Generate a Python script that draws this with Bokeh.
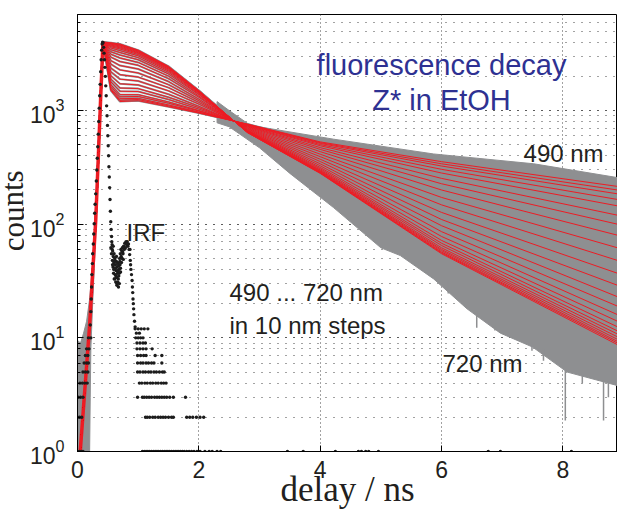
from bokeh.plotting import figure
from bokeh.layouts import row
from bokeh.models import Label, FixedTicker, Range1d
from bokeh.core.properties import value
from bokeh.embed import file_html
from bokeh.resources import INLINE

# ---------------- data ----------------
wavelengths = list(range(490, 730, 10))          # 490 ... 720 nm, 24 traces

# shared rise of the fitted curves (ns, counts)
rise_t = [0.045, 0.20, 0.30, 0.345, 0.38, 0.42]
rise_v = [1, 13, 107, 415, 1230, 4000]

# fit values after the peak, one list per delay, one entry per wavelength
decay_t = [0.55, 0.7, 1.0, 1.5, 2.0, 2.8, 4.0, 6.0, 8.9]
v_055 = [1500, 1530, 1570, 1630, 1690, 1790, 1890, 2020, 2190, 2360, 2560, 2750,
         2950, 3130, 3290, 3430, 3550, 3640, 3710, 3770, 3830, 3880, 3920, 3950]
v_070 = [1200, 1230, 1270, 1320, 1380, 1480, 1580, 1720, 1890, 2070, 2280, 2490,
         2700, 2900, 3080, 3240, 3370, 3480, 3560, 3630, 3700, 3760, 3800, 3850]
v_100 = [1220, 1250, 1280, 1330, 1380, 1470, 1560, 1680, 1820, 1970, 2140, 2320,
         2500, 2650, 2800, 2920, 3030, 3110, 3180, 3230, 3280, 3330, 3370, 3400]
v_150 = [1080, 1100, 1120, 1160, 1190, 1250, 1310, 1390, 1490, 1590, 1690, 1800,
         1910, 2010, 2100, 2170, 2230, 2280, 2320, 2360, 2380, 2410, 2430, 2450]
v_200 = [950, 960, 970, 990, 1000, 1030, 1060, 1090, 1140, 1180, 1220, 1260,
         1310, 1340, 1380, 1400, 1430, 1440, 1460, 1470, 1480, 1490, 1490, 1500]
v_280 = [760, 757, 754, 749, 744, 736, 729, 720, 710, 700, 691, 682,
         673, 667, 661, 656, 652, 649, 647, 645, 643, 642, 641, 640]
v_400 = [530, 522, 514, 502, 490, 472, 455, 435, 413, 393, 373, 356,
         340, 327, 316, 308, 301, 296, 292, 289, 286, 283, 282, 280]
v_600 = [355, 340, 325, 304, 282, 253, 227, 200, 172, 148, 127, 110,
         97, 86, 78, 72, 68, 65, 62, 60, 58.5, 57, 56, 55]
v_890 = [215, 200, 185, 165, 145, 120, 100, 80, 62, 48, 37, 29,
         23, 19, 16, 14, 12.5, 11.5, 10.8, 10.2, 9.7, 9.3, 9.0, 8.7]
fit_columns = [v_055, v_070, v_100, v_150, v_200, v_280, v_400, v_600, v_890]

# outline of the grey (measured) data cloud in the tail
upper_t = [2.3, 2.5, 2.85, 4.22, 5.87, 7.52, 8.9]
upper_v = [1200, 1000, 740, 560, 415, 340, 257]
lower_t = [2.3, 2.5, 3.0, 3.5, 4.22, 5.0, 5.32, 5.87, 6.42, 6.97, 7.5, 8.07, 8.9]
lower_v = [780, 720, 470, 280, 140, 62, 53, 33, 18, 11, 8.3, 5, 3.8]

# grey background noise before / along the rise
pre_t = [0.0, 0.0, 0.05, 0.10, 0.15, 0.20, 0.25, 0.30, 0.34, 0.36,
         0.37, 0.33, 0.29, 0.25, 0.22, 0.21, 0.20]
pre_v = [1, 9.5, 9, 11, 14, 22, 45, 150, 500, 900,
         700, 200, 60, 20, 8, 3, 1]

# deep noise spikes at the lower edge
spike_t = [6.11, 6.58, 6.88, 7.49, 7.68, 8.04, 8.32, 8.67, 8.75]
spike_lo = [24.6, 12.3, 11.6, 7.7, 6.3, 1.87, 4.0, 1.87, 3.0]
spike_hi = [32, 17, 13, 9, 8, 5.2, 4.8, 4.2, 4.1]

# instrument response function (IRF), black dots
irf_rise_t = [0.0, 0.03, 0.06, 0.09, 0.0, 0.035, 0.07, 0.01, 0.05, 0.09,
              0.04, 0.08, 0.12, 0.16, 0.09, 0.13, 0.17, 0.11, 0.15, 0.18,
              0.13, 0.17, 0.15, 0.19, 0.18, 0.22,
              0.21, 0.22, 0.226, 0.232, 0.237, 0.245, 0.25, 0.26, 0.268, 0.275,
              0.283, 0.29, 0.30, 0.31, 0.318, 0.326, 0.334, 0.342, 0.35, 0.358,
              0.366, 0.374, 0.382, 0.39, 0.398, 0.406, 0.414, 0.42]
irf_rise_v = [1, 1, 1, 1, 2, 2, 2, 3, 3, 3,
              4, 4, 4, 4, 5, 5, 5, 6, 6, 6,
              7, 7, 8, 8, 10, 10,
              13, 17, 22, 28, 36, 45, 55, 67, 82, 101,
              125, 150, 185, 240, 300, 380, 480, 620, 800, 1050,
              1350, 1700, 2200, 2800, 3400, 3850, 4000, 3950]
irf_fall_t = [0.43, 0.437, 0.445, 0.452, 0.459, 0.466, 0.473, 0.48, 0.487, 0.494,
              0.50, 0.506, 0.512, 0.518, 0.524, 0.53, 0.536, 0.542, 0.548, 0.555,
              0.562, 0.55, 0.56, 0.57, 0.575, 0.58, 0.585, 0.59, 0.595, 0.60,
              0.605, 0.61, 0.615, 0.62, 0.625, 0.63, 0.635, 0.64, 0.645, 0.65,
              0.655, 0.66, 0.665, 0.67, 0.675, 0.68, 0.685, 0.69, 0.695, 0.70,
              0.705, 0.71, 0.72, 0.73, 0.74, 0.75, 0.76, 0.77, 0.78, 0.79,
              0.80, 0.81, 0.82, 0.83, 0.84, 0.85, 0.86, 0.865, 0.87, 0.875,
              0.88, 0.89, 0.90, 0.905, 0.91, 0.915, 0.92, 0.925, 0.93, 0.94, 0.95,
              0.565, 0.572, 0.578, 0.588, 0.598, 0.603, 0.612, 0.618, 0.627, 0.633,
              0.642, 0.648, 0.657, 0.663, 0.672, 0.678, 0.688, 0.698, 0.708, 0.715,
              0.725, 0.735, 0.745, 0.755]
irf_fall_v = [3600, 3200, 2800, 2400, 2000, 1650, 1350, 1100, 900, 740,
              600, 490, 400, 320, 260, 210, 165, 130, 105, 90,
              78, 62, 55, 66, 48, 58, 42, 52, 37, 46,
              33, 41, 50, 36, 44, 31, 39, 47, 34, 29,
              42, 37, 31, 45, 28, 35, 40, 30, 50, 44,
              55, 38, 52, 58, 62, 55, 64, 60, 68, 62,
              70, 66, 70, 64, 67, 60, 54, 60, 48, 44,
              40, 36, 32, 28, 25, 22, 20, 18, 16, 14, 12.5,
              70, 60, 44, 64, 40, 55, 33, 48, 41, 35,
              52, 30, 46, 39, 33, 43, 37, 47, 41, 60,
              46, 50, 57, 49]
irf_tail_t = [0.95, 1.0, 1.05, 1.1, 1.16, 0.97, 1.02,
              0.96, 1.0, 1.04, 1.08,
              0.98, 1.03, 1.08, 1.12,
              0.98, 1.03, 1.08, 1.13, 1.23,
              0.99, 1.04, 1.09, 1.13, 1.28, 1.39,
              0.99, 1.04, 1.08, 1.13, 1.17, 1.22, 1.26, 1.39,
              0.99, 1.03, 1.08, 1.12, 1.17, 1.21, 1.26, 1.30, 1.35, 1.40, 1.43,
              1.02, 1.06, 1.11, 1.15, 1.20, 1.24, 1.29, 1.33, 1.38, 1.42, 1.46,
              0.99, 1.07, 1.10, 1.14, 1.18, 1.22, 1.27, 1.31, 1.35, 1.39, 1.43, 1.47, 1.52, 1.58, 1.78,
              1.12, 1.15, 1.19, 1.24, 1.28, 1.33, 1.37, 1.41, 1.45, 1.50, 1.55, 1.58,
              1.80, 1.85, 1.90, 1.96, 2.02, 2.08,
              1.07, 1.10, 1.13, 1.16, 1.19, 1.22, 1.25, 1.28, 1.31, 1.34, 1.37, 1.40,
              1.43, 1.46, 1.49, 1.52, 1.55, 1.58, 1.61, 1.64, 1.67, 1.70, 1.73, 1.76,
              1.80, 1.84, 1.88, 1.92, 1.97, 2.02, 2.10, 2.17, 2.22, 2.30, 2.36,
              3.46, 3.72, 4.25, 4.63, 4.68, 4.75, 4.80, 4.96, 6.77, 6.97, 8.14]
irf_tail_v = [12, 12, 12, 12, 12, 11, 11,
              10, 10, 10, 10,
              9, 9, 9, 9,
              8, 8, 8, 8, 8,
              7, 7, 7, 7, 7, 7,
              6, 6, 6, 6, 6, 6, 6, 6,
              5, 5, 5, 5, 5, 5, 5, 5, 5, 5, 5,
              4, 4, 4, 4, 4, 4, 4, 4, 4, 4, 4,
              3, 3, 3, 3, 3, 3, 3, 3, 3, 3, 3, 3, 3, 3, 3,
              2, 2, 2, 2, 2, 2, 2, 2, 2, 2, 2, 2,
              2, 2, 2, 2, 2, 2,
              1, 1, 1, 1, 1, 1, 1, 1, 1, 1, 1, 1,
              1, 1, 1, 1, 1, 1, 1, 1, 1, 1, 1, 1,
              1, 1, 1, 1, 1, 1, 1, 1, 1, 1, 1,
              1, 1, 1, 1, 1, 1, 1, 1, 1, 1, 1]

x_ticks = [0, 2, 4, 6, 8]

# ---------------- styling ----------------
GREY = "#8e8f91"
RED = "#ed1c24"
BLUE = "#2e3192"
INK = "#231f20"
SANS = "Liberation Sans"
SERIF = "Liberation Serif"
LABEL_W = 24          # narrow strip holding the rotated y-axis title

# narrow strip for the y axis title "counts" (reads bottom to top)
q = figure(width=LABEL_W, height=512, x_range=Range1d(0, LABEL_W), y_range=Range1d(0, 512),
           output_backend="svg", toolbar_location=None,
           x_axis_location=None, y_axis_location=None, min_border=0)
q.grid.visible = False
q.outline_line_color = None
q.background_fill_color = "white"
q.border_fill_color = "white"
q.text(x=[12.5], y=[512 - 230], text=["counts"], angle=1.5708,
       text_font=value(SERIF), text_font_size="31px", text_color=INK,
       text_align="center", text_baseline="middle")

p = figure(width=617 - LABEL_W, height=512, y_axis_type="log",
           x_range=Range1d(0, 8.9), y_range=Range1d(1, 7000),
           output_backend="svg", toolbar_location=None,
           min_border_left=77 - LABEL_W, min_border_right=0,
           min_border_top=14, min_border_bottom=61,
           x_axis_label="delay / ns")
p.background_fill_color = "white"
p.border_fill_color = "white"
p.outline_line_color = "black"
p.outline_line_width = 1

# axes
p.xaxis.ticker = FixedTicker(ticks=x_ticks)
for ax in (p.xaxis[0], p.yaxis[0]):
    ax.axis_line_color = "black"
    ax.major_tick_line_color = "black"
    ax.major_tick_out = 0
    ax.major_tick_in = 6
    ax.minor_tick_out = 0
    ax.minor_tick_in = 3
    ax.major_label_text_font = SANS
    ax.major_label_text_font_size = "23px"
    ax.major_label_text_color = INK
p.xaxis.axis_label_text_font = SERIF
p.xaxis.axis_label_text_font_style = "normal"
p.xaxis.axis_label_text_color = INK
p.xaxis.minor_tick_line_color = None
p.xaxis.major_label_standoff = 9
p.xaxis.axis_label_text_font_size = "35px"
p.xaxis.axis_label_standoff = -11
p.xaxis.axis_label_text_line_height = 1.7
p.yaxis.major_label_standoff = 13
p.yaxis.minor_tick_line_color = "black"

# grids (MATLAB-like dotted)
p.xgrid.grid_line_color = "#444444"
p.xgrid.grid_line_dash = "1 3"
p.xgrid.grid_line_width = 1
p.ygrid.grid_line_color = "#444444"
p.ygrid.grid_line_dash = "1 7"
p.ygrid.grid_line_width = 1
p.ygrid.minor_grid_line_color = "#444444"
p.ygrid.minor_grid_line_dash = "1 7"
p.ygrid.minor_grid_line_width = 1

# grey measured data
p.patch(pre_t, pre_v, fill_color=GREY, line_color=GREY)
p.patch(upper_t + lower_t[::-1], upper_v + lower_v[::-1],
        fill_color=GREY, line_color=GREY, line_width=1)
p.segment(spike_t, spike_hi, spike_t, spike_lo, line_color=GREY, line_width=1.5)

curves = []
for i in range(len(wavelengths)):
    xs = rise_t + decay_t
    ys = rise_v + [col[i] for col in fit_columns]
    curves.append((xs, ys))
    p.line(xs, ys, line_color=GREY, line_width=2.0)

# red fits
p.line(rise_t, rise_v, line_color=RED, line_width=3.5)
for xs, ys in curves:
    p.line(xs, ys, line_color=RED, line_width=1.0)

# IRF dots
p.scatter(irf_rise_t + irf_fall_t + irf_tail_t, irf_rise_v + irf_fall_v + irf_tail_v,
          marker="circle", size=3.4, fill_color="#1c1c1c", line_color=None)


def px_to_t(px):
    return (px - 77.0) / 60.67


def py_to_v(py):
    return 10 ** ((451.0 - py) / 113.65)


def add_text(text, px, py, size, color=INK, font=SANS, align="left"):
    p.add_layout(Label(x=px_to_t(px), y=py_to_v(py), text=text,
                       text_font=font, text_font_size=size, text_color=color,
                       text_align=align, text_baseline="alphabetic"))


add_text("fluorescence decay", 441, 65, "29px", color=BLUE, align="center")
add_text("Z* in EtOH", 441, 100, "29px", color=BLUE, align="center")
add_text("490 nm", 523, 153, "24px")
add_text("IRF", 126, 232, "24px")
add_text("490 ... 720 nm", 229, 292, "24px")
add_text("in 10 nm steps", 229, 325, "24px")
add_text("720 nm", 442, 363, "24px")

layout = row(q, p, spacing=0)
open("out.html", "w").write(file_html(layout, INLINE))
